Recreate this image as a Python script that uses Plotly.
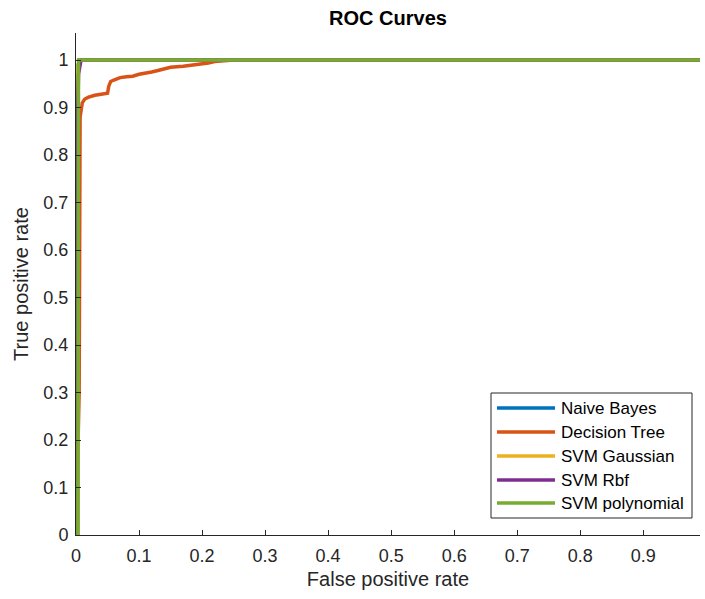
import plotly.graph_objects as go

names = ["Naive Bayes", "Decision Tree", "SVM Gaussian", "SVM Rbf", "SVM polynomial"]
colors = ["#0072BD", "#D95319", "#EDB120", "#7E2F8E", "#77AC30"]

nb_fpr = [0.003, 0.003, 0.005, 1.0]
nb_tpr = [0.0, 0.985, 1.0, 1.0]

dt_fpr = [0.0, 0.005, 0.0065, 0.007, 0.008, 0.010, 0.014, 0.020, 0.030, 0.040, 0.050, 0.052,
          0.055, 0.060, 0.070, 0.080, 0.090, 0.100, 0.110, 0.120, 0.130, 0.140, 0.150,
          0.170, 0.190, 0.200, 0.210, 0.220, 0.250, 1.0]
dt_tpr = [0.0, 0.30, 0.880, 0.885, 0.900, 0.910, 0.918, 0.922, 0.926, 0.928, 0.930, 0.945,
          0.955, 0.958, 0.963, 0.965, 0.966, 0.970, 0.972, 0.975, 0.978, 0.982, 0.985,
          0.987, 0.990, 0.992, 0.994, 0.997, 1.0, 1.0]

gauss_fpr = [0.003, 0.003, 0.005, 1.0]
gauss_tpr = [0.0, 0.985, 1.0, 1.0]

rbf_fpr = [0.0, 0.0, 0.004, 0.008, 1.0]
rbf_tpr = [0.0, 0.73, 0.97, 1.0, 1.0]

poly_fpr = [0.003, 0.003, 0.004, 1.0]
poly_tpr = [0.0, 0.99, 1.0, 1.0]

series_x = [nb_fpr, dt_fpr, gauss_fpr, rbf_fpr, poly_fpr]
series_y = [nb_tpr, dt_tpr, gauss_tpr, rbf_tpr, poly_tpr]

x_ticks = [0, 0.1, 0.2, 0.3, 0.4, 0.5, 0.6, 0.7, 0.8, 0.9]
x_ticklabels = ["0", "0.1", "0.2", "0.3", "0.4", "0.5", "0.6", "0.7", "0.8", "0.9"]
y_ticks = [0, 0.1, 0.2, 0.3, 0.4, 0.5, 0.6, 0.7, 0.8, 0.9, 1.0]
y_ticklabels = ["0", "0.1", "0.2", "0.3", "0.4", "0.5", "0.6", "0.7", "0.8", "0.9", "1"]

FONT = "Liberation Sans, Arial, sans-serif"
TXT = "#262626"

W, H = 705, 599
L, R, T, B = 76, 5, 33, 64
PW, PH = W - L - R, H - T - B


def px_x(p):
    return (p - L) / PW


def px_y(p):
    return (H - B - p) / PH


fig = go.Figure()
for i, (n, c) in enumerate(zip(names, colors)):
    fig.add_trace(go.Scatter(
        x=series_x[i], y=series_y[i], mode="lines", name=n,
        line=dict(color=c, width=3.5), showlegend=False,
    ))

# custom legend (box, sample lines, labels)
shapes = [dict(type="rect", xref="paper", yref="paper",
               x0=px_x(491), x1=px_x(692), y0=px_y(518), y1=px_y(393),
               line=dict(color="#262626", width=1), fillcolor="white", layer="above")]
annotations = []
row_y = [408, 432, 456, 480, 503]
for n, c, ry in zip(names, colors, row_y):
    shapes.append(dict(type="line", xref="paper", yref="paper",
                       x0=px_x(497), x1=px_x(555), y0=px_y(ry), y1=px_y(ry),
                       line=dict(color=c, width=3.5), layer="above"))
    annotations.append(dict(xref="paper", yref="paper", x=px_x(559), y=px_y(ry),
                            xanchor="left", yanchor="middle", text=n, showarrow=False,
                            font=dict(family=FONT, size=17, color="#000000")))

fig.update_layout(
    width=W, height=H,
    margin=dict(l=L, r=R, t=T, b=B),
    paper_bgcolor="white", plot_bgcolor="white",
    font=dict(family=FONT, color=TXT, size=18),
    title=dict(text="<b>ROC Curves</b>", x=0.5, xref="paper", xanchor="center",
               y=1 - 18 / 599, yref="container", yanchor="middle",
               font=dict(family=FONT, size=20, color="#000000")),
    showlegend=False,
    shapes=shapes,
    annotations=annotations,
)
fig.update_xaxes(
    range=[0, 0.99], tickvals=x_ticks, ticktext=x_ticklabels,
    ticks="inside", ticklen=5, tickcolor=TXT, tickwidth=1,
    showline=True, linecolor=TXT, linewidth=1, mirror=False,
    showgrid=False, zeroline=False, ticklabelstandoff=4,
    title=dict(text="False positive rate", font=dict(size=20, color=TXT), standoff=7),
    tickfont=dict(size=18, color=TXT),
)
fig.update_yaxes(
    range=[0, 1.057], tickvals=y_ticks, ticktext=y_ticklabels,
    ticks="inside", ticklen=5, tickcolor=TXT, tickwidth=1,
    showline=True, linecolor=TXT, linewidth=1, mirror=False,
    showgrid=False, zeroline=False, ticklabelstandoff=3,
    title=dict(text="True positive rate", font=dict(size=20, color=TXT), standoff=9),
    tickfont=dict(size=18, color=TXT),
)

fig.write_html("out.html")
